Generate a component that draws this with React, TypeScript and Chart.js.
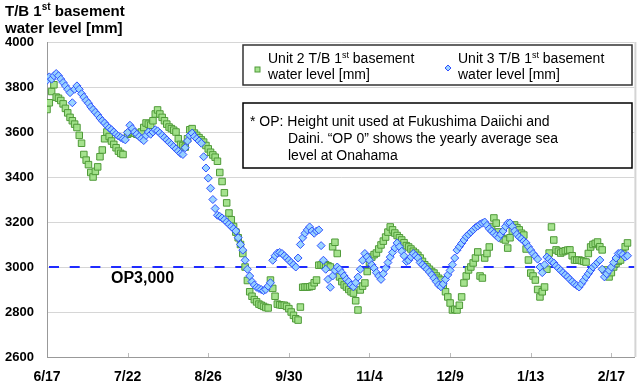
import React, { useEffect, useRef } from 'react';
import { Chart, registerables } from 'chart.js';

Chart.register(...registerables);

// ---------------- data ----------------
const xTickLabels = ['6/17', '7/22', '8/26', '9/30', '11/4', '12/9', '1/13', '2/17'];
const tickStepDays = 35;
const xMaxDays = 255;
const yMin = 2600;
const yMax = 4000;
const yStep = 200;
const refLevel = 3000;
const refLabel = 'OP3,000';

const titleLine1 = ['T/B 1', 'st', ' basement'];
const titleLine2 = 'water level [mm]';
const unit2Label = ['Unit 2 T/B 1', 'st', ' basement'];
const unit3Label = ['Unit 3 T/B 1', 'st', ' basement'];
const labelLine2 = 'water level [mm]';
const noteLines = [
  '* OP: Height unit used at Fukushima Daiichi and',
  'Daini. \u201COP 0\u201D shows the yearly average sea',
  'level at Onahama',
];

// daily values, index = days since 6/17
const unit2Levels: (number | null)[] = [
  3700, 3730, 3780, 3810, 3755, 3750, 3740, 3725, 3705, 3685,
  3665, 3650, 3635, 3620, 3585, 3550, 3500, 3475, 3455, 3420,
  3400, 3425, 3445, 3490, 3520, 3570, 3600, 3580, 3560, 3545,
  3530, 3515, 3505, 3500, null, 3590, 3596, 3600, 3595, 3590,
  3587, 3600, 3620, 3640, 3635, 3630, 3650, 3680, 3698, 3680,
  3665, 3650, 3635, 3622, 3615, 3608, 3600, 3570, 3545, 3540,
  3533, 3570, 3610, 3615, 3595, 3585, 3575, 3565, 3555, 3540,
  3525, 3510, 3498, 3488, 3470, 3420, 3380, 3330, 3285, 3240,
  3210, 3180, 3155, 3130, 3100, 3060, 3000, 2940, 2890, 2870,
  2855, 2845, 2835, 2830, 2825, 2820, 2818, 2942, 2905, 2870,
  2835, 2832, 2830, 2830, 2825, 2815, 2800, 2785, 2770, 2764,
  2822, 2910, 2911, 2911, 2912, 2915, 2930, 2942, 3008, 3009,
  3009, 3010, 3005, 3000, 3090, 3110, 3060, 2956, 2935, 2920,
  2911, 2900, 2890, 2884, 2850, 2809, 2898, 2915, 2929, 2980,
  3020, 3044, 3055, 3062, 3080, 3098, 3115, 3133, 3155, 3178,
  3165, 3151, 3140, 3130, 3120, 3108, 3095, 3089, 3080, 3070,
  3062, 3052, 3040, 3025, 3010, 3000, 2990, 2980, 2973, 2960,
  2950, 2942, 2915, 2890, 2867, 2840, 2809, 2812, 2809, 2830,
  2867, 2929, 2960, 2987, 3000, 3018, 3040, 3067, 2960, 2951,
  3040, 3060, 3089, 3178, 3218, 3195, 3156, 3140, 3125, 3120,
  3084, 3130, 3160, 3187, 3175, 3165, 3150, 3142, 3080, 3031,
  2973, 2960, 2942, 2900, 2867, 2890, 2911, 2990, 3062, 3178,
  3120, 3076, 3070, 3062, 3068, 3072, 3075, 3076, 3050, 3031,
  3030, 3031, 3028, 3025, 3022, 3060, 3089, 3100, 3105, 3111,
  3090, 3076, 2987, 2970, 2956, 2975, 3000, 3015, 3025, 3031,
  3060, 3090, 3107,
];

const unit3Levels: (number | null)[] = [
  3830, 3845, 3835, 3850, 3860, 3850, 3835, 3820, 3805, 3790,
  3775, 3730, 3790, 3805, 3790, 3770, 3755, 3740, 3728, 3712,
  3700, 3688, 3676, 3662, 3650, 3640, 3628, 3618, 3610, 3600,
  3590, 3582, 3576, 3570, 3565, 3598, 3630, 3615, 3600, 3590,
  3580, 3570, 3562, 3585, 3600, 3590, 3600, 3610, 3605, 3595,
  3585, 3575, 3565, 3555, 3545, 3535, 3525, 3515, 3505, 3500,
  3530, 3560, 3585, 3595, 3580, 3570, 3560, 3550, 3490, 3440,
  3395, 3350, 3300, 3260, 3230, 3225, 3218, 3210, 3200, 3190,
  3180, 3170, 3160, 3130, 3100, 3075, 3030, 2990, 2960, 2935,
  2920, 2910, 2905, 2900, 2895, 2900, 2915, 2930, 3030, 3050,
  3062, 3065, 3060, 3050, 3040, 3030, 3020, 3010, 3000, 3040,
  3100, 3130, 3150, 3165, 3178, 3160, 3150, 3160, 3165, 3095,
  3030, 2990, 2945, 2910, 2960, 2985, 3000, 2990, 2975, 2960,
  2945, 2935, 2920, 2912, 2930, 2955, 2990, 3030, 3060, 3045,
  3030, 3010, 2995, 2975, 2960, 2945, 2970, 2995, 3020, 3044,
  3065, 3085, 3107, 3090, 3070, 3050, 3025, 3030, 3045, 3060,
  3050, 3040, 3020, 3010, 3000, 2990, 2978, 2965, 2950, 2935,
  2920, 2912, 2925, 2945, 2965, 2985, 3010, 3040, 3075, 3090,
  3105, 3120, 3135, 3145, 3155, 3165, 3175, 3182, 3190, 3195,
  3200, 3185, 3170, 3160, 3150, 3140, 3130, 3145, 3160, 3180,
  3195, 3196, 3180, 3160, 3145, 3133, 3125, 3115, 3107, 3090,
  3075, 3060, 3048, 3035, 3000, 2975, 3010, 3044, 3035, 3025,
  3018, 3005, 2995, 2985, 2975, 2965, 2956, 2945, 2935, 2925,
  2918, 2911, 2925, 2940, 2956, 2970, 2985, 3000, 3010, 3020,
  3031, 2990, 2956, 2970, 2985, 3000, 3020, 3040, 3060, 3062,
  3055, 3044, 3050,
];

// ---------------- styles ----------------
const FONT = '"Liberation Sans", Arial, Helvetica, sans-serif';
const GREEN_FILL = 'rgba(160,224,136,0.95)';
const GREEN_BORDER = '#4f9a38';
const BLUE_FILL = 'rgba(150,210,255,0.95)';
const BLUE_BORDER = '#3050ff';

function toPoints(arr: (number | null)[]) {
  const out: { x: number; y: number }[] = [];
  arr.forEach((v, i) => {
    if (v !== null && v !== undefined) out.push({ x: i, y: v });
  });
  return out;
}

function drawRuns(
  ctx: CanvasRenderingContext2D,
  runs: string[],
  x: number,
  y: number,
  size: number,
  weight: string
) {
  // runs alternate: normal, superscript, normal ...
  let cx = x;
  runs.forEach((t, i) => {
    const sup = i % 2 === 1;
    const s = sup ? Math.round(size * 0.65) : size;
    ctx.font = `${weight} ${s}px ${FONT}`;
    ctx.fillText(t, cx, sup ? y - size * 0.38 : y);
    cx += ctx.measureText(t).width;
  });
}

const overlayPlugin = {
  id: 'overlay',
  beforeDatasetsDraw(chart: any) {
    const { ctx, chartArea, scales } = chart;
    const y = scales.y.getPixelForValue(refLevel);
    ctx.save();
    ctx.strokeStyle = '#1f2bff';
    ctx.lineWidth = 2;
    ctx.setLineDash([10, 10.7]);
    ctx.beginPath();
    ctx.moveTo(chartArea.left + 2, y);
    ctx.lineTo(chartArea.right, y);
    ctx.stroke();
    ctx.restore();
  },
  afterDraw(chart: any) {
    const { ctx, chartArea, scales } = chart;
    ctx.save();
    // inner tick marks on x axis
    ctx.strokeStyle = '#bbbbbb';
    ctx.lineWidth = 1;
    xTickLabels.forEach((_, i) => {
      if (i === 0) return;
      const px = Math.round(scales.x.getPixelForValue(i * tickStepDays)) + 0.5;
      ctx.beginPath();
      ctx.moveTo(px, chartArea.bottom);
      ctx.lineTo(px, chartArea.bottom - 4);
      ctx.stroke();
    });
    // right border
    ctx.strokeStyle = '#d4d4d4';
    ctx.lineWidth = 2;
    ctx.beginPath();
    ctx.moveTo(chartArea.right + 1, chartArea.top);
    ctx.lineTo(chartArea.right + 1, chartArea.bottom);
    ctx.stroke();

    ctx.fillStyle = '#000';
    ctx.textBaseline = 'alphabetic';
    ctx.textAlign = 'left';
    // title
    drawRuns(ctx, titleLine1, 5, 16, 15, 'bold');
    ctx.font = `bold 15px ${FONT}`;
    ctx.fillText(titleLine2, 5, 33);

    // legend box
    ctx.fillStyle = '#fff';
    ctx.fillRect(243, 45, 389, 40);
    ctx.strokeStyle = '#333';
    ctx.lineWidth = 1.5;
    ctx.strokeRect(243, 45, 389, 40);
    // markers
    ctx.fillStyle = GREEN_FILL;
    ctx.strokeStyle = GREEN_BORDER;
    ctx.lineWidth = 1;
    ctx.fillRect(255, 67, 5, 5);
    ctx.strokeRect(255, 67, 5, 5);
    ctx.fillStyle = BLUE_FILL;
    ctx.strokeStyle = BLUE_BORDER;
    ctx.beginPath();
    ctx.moveTo(448, 65);
    ctx.lineTo(451, 68);
    ctx.lineTo(448, 71);
    ctx.lineTo(445, 68);
    ctx.closePath();
    ctx.fill();
    ctx.stroke();
    ctx.fillStyle = '#000';
    drawRuns(ctx, unit2Label, 268, 63, 14, 'normal');
    ctx.font = `normal 14px ${FONT}`;
    ctx.fillText(labelLine2, 268, 79);
    drawRuns(ctx, unit3Label, 458, 63, 14, 'normal');
    ctx.font = `normal 14px ${FONT}`;
    ctx.fillText(labelLine2, 458, 79);

    // note box
    ctx.fillStyle = '#fff';
    ctx.fillRect(243, 103, 389, 65);
    ctx.strokeStyle = '#000';
    ctx.lineWidth = 1.5;
    ctx.strokeRect(243, 103, 389, 65);
    ctx.fillStyle = '#000';
    ctx.font = `normal 14px ${FONT}`;
    ctx.fillText(noteLines[0], 250, 126);
    ctx.fillText(noteLines[1], 288, 143);
    ctx.fillText(noteLines[2], 288, 160);

    // reference label
    ctx.font = `bold 16px ${FONT}`;
    ctx.fillText(refLabel, 111, 283);
    ctx.restore();
  },
};

export default function App() {
  const canvasRef = useRef<HTMLCanvasElement | null>(null);

  useEffect(() => {
    document.body.style.margin = '0';
    const canvas = canvasRef.current;
    if (!canvas) return;
    Chart.defaults.font.family = FONT;
    const chart = new Chart(canvas, {
      type: 'scatter',
      data: {
        datasets: [
          {
            label: 'Unit 3',
            data: toPoints(unit3Levels),
            pointStyle: 'rectRot',
            pointRadius: 4,
            pointBorderWidth: 1,
            backgroundColor: BLUE_FILL,
            borderColor: BLUE_BORDER,
            order: 1,
          },
          {
            label: 'Unit 2',
            data: toPoints(unit2Levels),
            pointStyle: 'rect',
            pointRadius: 4.6,
            pointBorderWidth: 1,
            backgroundColor: GREEN_FILL,
            borderColor: GREEN_BORDER,
            order: 2,
          },
        ],
      },
      options: {
        animation: false,
        responsive: false,
        maintainAspectRatio: false,
        events: [],
        layout: { padding: { left: 0, top: 42, right: 3, bottom: 0 } },
        plugins: {
          legend: { display: false },
          tooltip: { enabled: false },
          title: { display: false },
        },
        scales: {
          x: {
            type: 'linear',
            min: 0,
            max: xMaxDays,
            afterFit: (scale: any) => {
              scale.height = 33;
            },
            afterBuildTicks: (scale: any) => {
              scale.ticks = xTickLabels.map((_, i) => ({ value: i * tickStepDays }));
            },
            ticks: {
              autoSkip: false,
              maxRotation: 0,
              padding: 12,
              color: '#000',
              font: { size: 14, weight: 'bold', family: FONT },
              callback: (v: any) => xTickLabels[Math.round(Number(v) / tickStepDays)] ?? '',
            },
            grid: { display: false, drawTicks: false },
            border: { display: true, color: '#999', width: 1 },
          },
          y: {
            type: 'linear',
            min: yMin,
            max: yMax,
            afterFit: (scale: any) => {
              scale.width = 47;
            },
            ticks: {
              stepSize: yStep,
              padding: 13,
              color: '#000',
              font: { size: 13, weight: 'bold', family: FONT },
              callback: (v: any) => String(v),
            },
            grid: { color: '#d6d6d6', lineWidth: 1, drawTicks: false },
            border: { display: true, color: '#999', width: 1 },
          },
        },
      },
      plugins: [overlayPlugin],
    });
    return () => chart.destroy();
  }, []);

  return (
    <div style={{ position: 'fixed', left: 0, top: 0, width: 640, height: 390, background: '#fff' }}>
      <canvas ref={canvasRef} width={640} height={390} />
    </div>
  );
}
